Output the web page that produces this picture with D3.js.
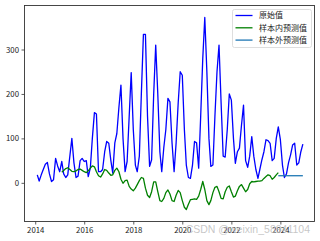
<!DOCTYPE html>
<html>
<head>
<meta charset="utf-8">
<script src="https://cdn.jsdelivr.net/npm/d3@7"></script>
<style>
  body { margin: 0; background: #fff; }
  svg { display: block; }
</style>
</head>
<body>
<svg id="chart" width="320" height="241"></svg>
<script>
// monthly series, first point Feb 2014
const startYear = 2014, startMonth = 1

const original = [
  18, 4, 18, 30, 42, 46, 20, 3, 7, 55, 38, 25,
  48, 20, 12, 18, 60, 100, 45, 12, 15, 50, 55, 48,
  50, 14, 33, 100, 158, 155, 25, 25, 30, 70, 93, 89,
  50, 22, 90, 111, 170, 220, 100, 25, 48, 150, 248, 120,
  40, 25, 60, 200, 334, 334, 150, 37, 52, 200, 310, 200,
  70, 25, 80, 120, 190, 182, 90, 25, 90, 180, 250, 242,
  120, 40, 12, 10, 40, 93, 90, 33, 150, 280, 372, 250,
  100, 37, 40, 150, 250, 310, 180, 60, 58, 120, 200, 186,
  100, 44, 70, 78, 130, 175, 50, 35, 60, 104, 60, 30,
  10, 30, 52, 70, 97, 95, 89, 50, 55, 100, 126, 97,
  40, 12, 20, 45, 63, 85, 89, 40, 45, 70, 87
]

// in-sample fit starts at month index 12 (Feb 2015)
const inStart = 12
const inSample = [
  24, 28, 32, 34, 30, 26, 25, 27, 30, 31, 28, 25,
  23, 27, 33, 38, 36, 25, 16, 13, 20, 30, 28, 22,
  17, 18, 28, 33, 25, 8, -1, 5, 6, -8, -14, -18,
  -12, -4, 5, 12, 10, -12, -28, -33, -20, 2, 2, -20,
  -40, -42, -35, -22, -16, -25, -40, -42, -28, -17, -22, -40,
  -55, -60, -48, -38, -37, -36, -37, -30, -15, 3, -15, -40,
  -49, -40, -22, -10, -8, -20, -35, -36, -20, -10, -7, -20,
  -32, -30, -18, -8, -4, -12, -20, -15, -2, 3, 2, 3,
  4, 4, 5, 10, 14, 18, 16, 8, 12, 18, 23
]

// out-of-sample forecast starts at month index 118 (Dec 2023)
const outStart = 118
const outSample = [16, 16, 16, 16, 16, 16, 16, 16, 16, 16, 16, 16, 16]

const yTicks = [0, 100, 200, 300]
const xTickYears = [2014, 2016, 2018, 2020, 2022, 2024]

const legendItems = [
  { label: "原始值", color: "#0000ff" },
  { label: "样本内预测值", color: "#008000" },
  { label: "样本外预测值", color: "#1f77b4" }
]

function monthDate(i) {
  return new Date(startYear, startMonth + i, 1)
}
function yearDate(yv) {
  const yr = Math.floor(yv)
  const s = new Date(yr, 0, 1), e = new Date(yr + 1, 0, 1)
  return new Date(+s + (yv - yr) * (e - s))
}

const svg = d3.select("#chart")
const plotL = 24.5, plotR = 314.5, plotT = 5.5, plotB = 221.5
const font = "'Noto Sans CJK SC', 'DejaVu Sans', sans-serif"

const x = d3.scaleTime()
  .domain([yearDate(2013.563), yearDate(2025.39)])
  .range([plotL, plotR])

const y = d3.scaleLinear()
  .domain([-87, 399])
  .range([plotB, plotT])

const line = d3.line()
  .x(d => x(d.date))
  .y(d => y(d.value))

const series = [
  { data: original.map((v, i) => ({ date: monthDate(i), value: v })), color: "#0000ff" },
  { data: inSample.map((v, i) => ({ date: monthDate(inStart + i), value: v })), color: "#008000" },
  { data: outSample.map((v, i) => ({ date: monthDate(outStart + i), value: v })), color: "#1f77b4" }
]

svg.selectAll(".series")
  .data(series)
  .enter()
  .append("path")
  .attr("class", "series")
  .attr("fill", "none")
  .attr("stroke", d => d.color)
  .attr("stroke-width", 1.3)
  .attr("stroke-linejoin", "round")
  .attr("d", d => line(d.data))

// axes
const xAxis = svg.append("g")
  .attr("transform", `translate(0,${plotB})`)
  .call(d3.axisBottom(x)
    .tickValues(xTickYears.map(yr => new Date(yr, 0, 1)))
    .tickFormat(d3.timeFormat("%Y"))
    .tickSize(3)
    .tickPadding(2.5)
    .tickSizeOuter(0))

const yAxis = svg.append("g")
  .attr("transform", `translate(${plotL},0)`)
  .call(d3.axisLeft(y)
    .tickValues(yTicks)
    .tickSize(3)
    .tickPadding(2.5)
    .tickSizeOuter(0))

;[xAxis, yAxis].forEach(g => {
  g.select(".domain").remove()
  g.selectAll(".tick line").attr("stroke", "#333").attr("stroke-width", 0.8)
  g.selectAll(".tick text")
    .attr("fill", "#222")
    .style("font-family", font)
    .style("font-size", "7.8px")
})

// frame
svg.append("rect")
  .attr("x", plotL).attr("y", plotT)
  .attr("width", plotR - plotL).attr("height", plotB - plotT)
  .attr("fill", "none")
  .attr("stroke", "#333")
  .attr("stroke-width", 0.9)

// legend
const legend = svg.append("g").attr("transform", "translate(232.5,9.5)")
legend.append("rect")
  .attr("width", 79).attr("height", 38)
  .attr("rx", 2)
  .attr("fill", "#fff").attr("fill-opacity", 0.8)
  .attr("stroke", "#d6d6d6").attr("stroke-width", 0.8)

const rows = legend.selectAll(".row")
  .data(legendItems)
  .enter()
  .append("g")
  .attr("transform", (d, i) => `translate(0,${6 + i * 12.3})`)

rows.append("line")
  .attr("x1", 3).attr("x2", 20)
  .attr("stroke", d => d.color)
  .attr("stroke-width", 1.3)

rows.append("text")
  .attr("x", 26.5)
  .attr("dy", "0.35em")
  .style("font-family", font)
  .style("font-size", "8px")
  .attr("fill", "#222")
  .text(d => d.label)

// watermark
svg.append("text")
  .attr("x", 310).attr("y", 233)
  .attr("text-anchor", "end")
  .style("font-family", "'Liberation Sans', Arial, sans-serif")
  .style("font-size", "10.5px")
  .attr("fill", "#bdbdbd")
  .attr("fill-opacity", 0.85)
  .text("CSDN @weixin_58941104")
</script>
</body>
</html>
